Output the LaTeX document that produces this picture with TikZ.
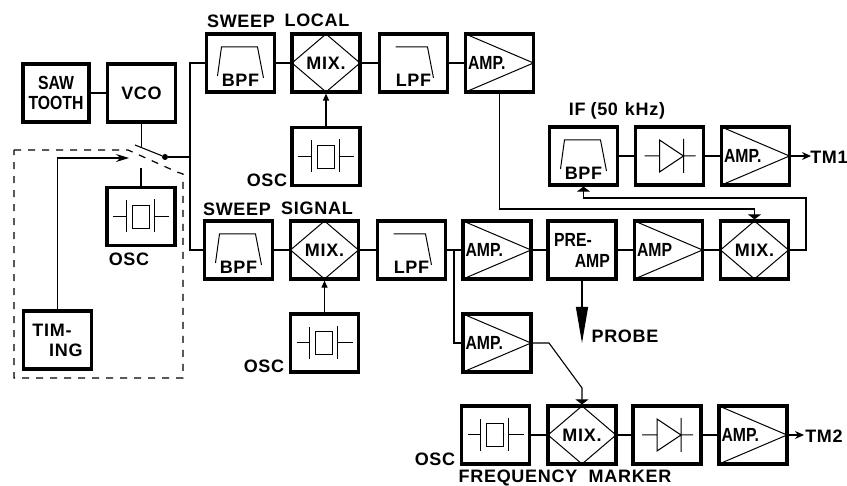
\documentclass[tikz,border=0pt]{standalone}
\usepackage{fontspec}
\setmainfont{Liberation Sans}[LetterSpace=4]
\newfontfamily\narrowfont{Liberation Sans}[FakeStretch=0.83]
\usetikzlibrary{arrows.meta,calc}

\begin{document}
\begin{tikzpicture}[
    x=1pt, y=-1pt,
    blk/.style={draw, line width=3.2pt, minimum width=68pt, minimum height=58pt, inner sep=0pt, align=center, font=\bfseries\fontsize{18}{20}\selectfont},
    sym/.style={line width=1pt},
    ampbox/.style={blk, text width=63pt, align=left, font=\bfseries\narrowfont\fontsize{19}{20}\selectfont},
    bpfbox/.style={blk, text height=48pt, text depth=0pt},
    lpfbox/.style={blk, text height=47pt, text depth=0pt},
    lbl/.style={inner sep=0pt, font=\bfseries\fontsize{18}{20}\selectfont},
    conn/.style={line width=1.1pt},
    tip/.style={conn, -{Triangle[length=7pt,width=6pt]}},
    flat/.style={conn, -{Triangle[length=5pt,width=13pt]}},
    tmarr/.style={conn, -{Stealth[length=9pt,width=8pt]}}
]
\useasboundingbox (0,0) rectangle (847,486);

\node[blk, font=\bfseries\narrowfont\fontsize{19}{20}\selectfont, minimum width=66pt] (saw) at (56,93) {SAW\\TOOTH};
\node[blk] (vco) at (141.5,93) {VCO};
\node[blk] (oscs) at (141,216.5) {};
\node[blk, align=right] (timing) at (57.5,340) {TIM-\kern11pt\\ING};

\node[bpfbox] (bpfa) at (240.5,63) {BPF};
\node[blk] (mixa) at (326,63) {MIX.};
\node[lpfbox] (lpfa) at (413.5,63) {LPF};
\node[ampbox] (ampa) at (499.5,63) {AMP.};
\node[blk] (osca) at (326,156.5) {};

\node[bpfbox] (bpfb) at (238.5,250) {BPF};
\node[blk] (mixb) at (324.5,250) {MIX.};
\node[lpfbox] (lpfb) at (411.5,250) {LPF};
\node[ampbox] (ampb) at (497,250) {AMP.};
\node[blk, align=right, font=\bfseries\narrowfont\fontsize{19}{21}\selectfont] (pre) at (582,250) {PRE-\kern18pt\\AMP};
\node[ampbox] (ampc) at (668.5,250) {AMP};
\node[blk] (mixc) at (754.5,250) {MIX.};
\node[blk] (oscb) at (324.5,343) {};
\node[ampbox] (ampd) at (497,343) {AMP.};

\node[bpfbox] (bpfc) at (583.5,156) {BPF};
\node[blk] (detc) at (669.5,156) {};
\node[ampbox] (ampe) at (755.5,156) {AMP.};

\node[blk] (oscc) at (495.5,435) {};
\node[blk] (mixd) at (582,435) {MIX.};
\node[blk] (detd) at (667,435) {};
\node[ampbox] (ampf) at (753,435) {AMP.};

\foreach \n in {mixa,mixb,mixc,mixd}
    \draw[sym, shift={(\n.center)}] (0,-29) -- (34,0) -- (0,29) -- (-34,0) -- cycle;
\foreach \n in {ampa,ampb,ampc,ampd,ampe,ampf}
    \draw[sym, shift={(\n.center)}] (-34,-29) -- (34,0) -- (-34,29);
\foreach \n in {bpfa,bpfb,bpfc}
    \draw[sym, shift={(\n.center)}] (-23,13) -- (-19,-16) -- (17,-16) -- (23,15);
\foreach \n in {lpfa,lpfb}
    \draw[sym, shift={(\n.center)}] (-18,-16) -- (14,-16) -- (20,15);
\foreach \n in {oscs,osca,oscb,oscc}
    \draw[sym, shift={(\n.center)}] (-28,0) -- (-15,0) (-15,-16) -- (-15,16) (-9,-11) rectangle (8,12) (13,-17) -- (13,16) (13,0) -- (28,0);
\foreach \n in {detc,detd}
    \draw[sym, shift={(\n.center)}] (-25,0) -- (-10,0) (-10,-16) -- (-10,16) -- (14,0) -- cycle (14,-17) -- (14,17) (14,0) -- (26,0);

\node[lbl] (sweepa) at (241,21) {SWEEP};
\node[lbl] (local) at (317,20) {LOCAL};
\node[lbl] (sweepb) at (237,209) {SWEEP};
\node[lbl] (signal) at (317,208) {SIGNAL};
\node[lbl] (osclbla) at (267,180) {OSC};
\node[lbl] (osclbls) at (129,259) {OSC};
\node[lbl] (osclblb) at (264,366) {OSC};
\node[lbl] (osclblc) at (435,459) {OSC};
\node[lbl] (iflbl) at (617,111) {IF\kern5pt(50\kern7pt kHz)};
\node[lbl, anchor=base] (freq) at (518,483) {FREQUENCY};
\node[lbl, anchor=base] (marker) at (630,483) {MARKER};
\node[lbl] (probe) at (625,336) {PROBE};
\node[lbl] (tma) at (829,157) {TM1};
\node[lbl] (tmb) at (824,436) {TM2};

\node[circle, fill, inner sep=0pt, minimum size=6pt] (swdot) at (165,157) {};
\coordinate (armtop) at (135,145);
\coordinate (armmid) at (141.5,147.5);
\coordinate (oscstub) at (141,168);
\coordinate (swin) at (129,158);
\coordinate (swjoin) at (190,157);
\coordinate (ifbus) at (754.5,209);
\coordinate (fbr) at (806,198);
\coordinate (tap) at (454,250);
\coordinate (mkbend) at (549,343);
\coordinate (mkdrop) at (582,388);
\coordinate (probetip) at (582,343);
\coordinate (tmaend) at (811,156);
\coordinate (tmbend) at (804,435);

\draw[conn] (saw) -- (vco);
\draw[conn] (vco.south) -- (armmid);
\draw[conn] (armtop) -- (swdot);
\draw[conn] (oscs.north) -- (oscstub);
\draw[conn] (swdot) -- (swjoin);
\draw[conn] (bpfa.west) -| (swjoin) |- (bpfb.west);
\draw[conn, -{Stealth[length=13pt,width=8pt]}] (timing.north) |- (swin);
\draw[conn] (bpfa) -- (mixa);
\draw[conn] (mixa) -- (lpfa);
\draw[conn] (lpfa) -- (ampa);
\draw[tip] (osca.north) -- (mixa.south);
\draw[conn] (bpfb) -- (mixb);
\draw[conn] (mixb) -- (lpfb);
\draw[conn] (lpfb) -- (ampb);
\draw[conn] (ampb) -- (pre);
\draw[conn] (pre) -- (ampc);
\draw[conn] (ampc) -- (mixc);
\draw[tip] (oscb.north) -- (mixb.south);
\draw[conn] (bpfc) -- (detc);
\draw[conn] (detc) -- (ampe);
\draw[tmarr] (ampe.east) -- (tmaend);
\draw[conn] (oscc) -- (mixd);
\draw[conn] (mixd) -- (detd);
\draw[conn] (detd) -- (ampf);
\draw[tmarr] (ampf.east) -- (tmbend);
\draw[flat] (ampa.south) |- (ifbus) -- (mixc.north);
\draw[flat] (mixc.east) -| (fbr) -| (bpfc.south);
\draw[conn] (tap) |- (ampd.west);
\draw[flat] (ampd.east) -- (mkbend) -- (mkdrop) -- (mixd.north);
\draw[conn, -{Triangle[length=36pt,width=12pt]}] (pre.south) -- (probetip);

\draw[line width=1.2pt, dash pattern=on 7pt off 7pt] (14,150) -- (128,150) -- (177,172) -- (183,174) -- (183,378) -- (14,378) -- cycle;
\end{tikzpicture}
\end{document}
